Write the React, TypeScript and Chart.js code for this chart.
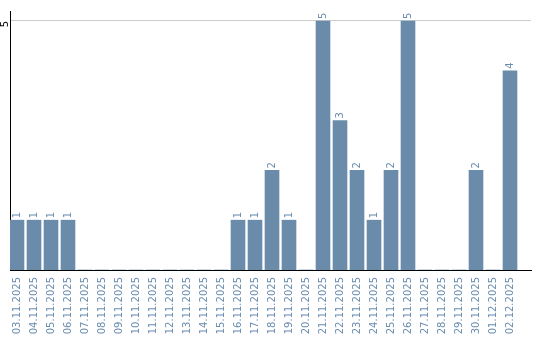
import React, { useEffect, useRef } from 'react';
import { Chart, registerables } from 'chart.js';

Chart.register(...registerables);

const labels: string[] = [
  '03.11.2025', '04.11.2025', '05.11.2025', '06.11.2025', '07.11.2025',
  '08.11.2025', '09.11.2025', '10.11.2025', '11.11.2025', '12.11.2025',
  '13.11.2025', '14.11.2025', '15.11.2025', '16.11.2025', '17.11.2025',
  '18.11.2025', '19.11.2025', '20.11.2025', '21.11.2025', '22.11.2025',
  '23.11.2025', '24.11.2025', '25.11.2025', '26.11.2025', '27.11.2025',
  '28.11.2025', '29.11.2025', '30.11.2025', '01.12.2025', '02.12.2025',
];

const values: number[] = [
  1, 1, 1, 1, 0,
  0, 0, 0, 0, 0,
  0, 0, 0, 1, 1,
  2, 1, 0, 5, 3,
  2, 1, 2, 5, 0,
  0, 0, 2, 0, 4,
];

const yTicks: number[] = [5];

const BAR_COLOR = '#6a8caa';
const TEXT_COLOR = '#6a8caf';
const FONT = { family: '"DejaVu Sans"', size: 10 };

const valueLabels = {
  id: 'valueLabels',
  afterDatasetsDraw(chart: any) {
    const ctx = chart.ctx;
    const meta = chart.getDatasetMeta(0);
    ctx.save();
    ctx.fillStyle = TEXT_COLOR;
    ctx.font = '10px "DejaVu Sans"';
    meta.data.forEach((bar: any, i: number) => {
      const v = values[i];
      if (!v) return;
      ctx.save();
      ctx.translate(bar.x, bar.y - 2);
      ctx.rotate(-Math.PI / 2);
      ctx.textAlign = 'left';
      ctx.textBaseline = 'middle';
      ctx.fillText(String(v), 0, 0);
      ctx.restore();
    });
    ctx.restore();
  },
};

export default function App() {
  const ref = useRef<HTMLCanvasElement>(null);

  useEffect(() => {
    document.body.style.margin = '0';
    const chart = new Chart(ref.current as HTMLCanvasElement, {
      type: 'bar',
      data: {
        datasets: [
          {
            data: values.map((v, i) => ({ x: i, y: v })) as any,
            backgroundColor: BAR_COLOR,
            borderWidth: 0,
            barThickness: 14,
          },
        ],
      },
      options: {
        animation: false,
        responsive: false,
        layout: { padding: { top: 10, right: 9, left: 0, bottom: 0 } },
        plugins: { legend: { display: false }, tooltip: { enabled: false } },
        scales: {
          x: {
            type: 'linear',
            offset: false,
            min: -7 / 17,
            max: 514 / 17,
            afterBuildTicks: (s: any) => {
              s.ticks = labels.map((_, i) => ({ value: i }));
            },
            afterFit: (s: any) => {
              s.height = 70;
            },
            grid: { display: false, drawTicks: false },
            border: { color: '#000', width: 1 },
            ticks: {
              autoSkip: false,
              minRotation: 90,
              maxRotation: 90,
              padding: 7,
              color: TEXT_COLOR,
              font: FONT,
              callback: (v: any) => labels[v as number],
            },
          },
          y: {
            min: 0,
            max: 5.2,
            afterBuildTicks: (s: any) => {
              s.ticks = yTicks.map((v) => ({ value: v }));
            },
            afterFit: (s: any) => {
              s.width = 10;
            },
            grid: { color: '#cccccc', drawTicks: false },
            border: { color: '#000', width: 1 },
            ticks: {
              minRotation: 90,
              maxRotation: 90,
              padding: 5,
              color: '#000',
              font: FONT,
            },
          },
        },
      },
      plugins: [valueLabels],
    });
    return () => chart.destroy();
  }, []);

  return <canvas ref={ref} width={540} height={340} style={{ display: 'block' }} />;
}
